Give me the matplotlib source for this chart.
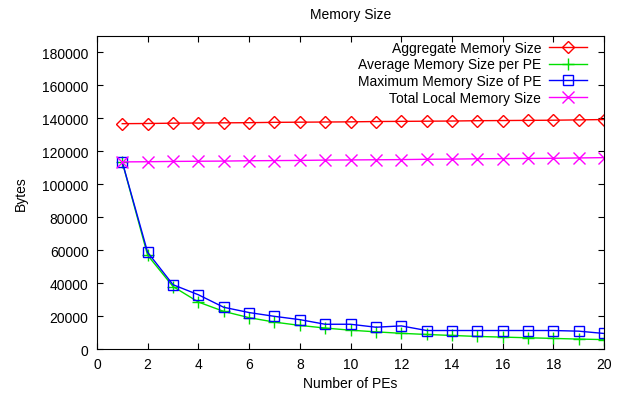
import matplotlib
matplotlib.use("Agg")
import matplotlib.pyplot as plt

plt.rcParams['font.family'] = ['Liberation Sans', 'DejaVu Sans']
plt.rcParams['font.size'] = 10

# number of PEs
pes = list(range(1, 21))

aggregate = [136800, 136900, 137100, 137200, 137300, 137400, 137600, 137700, 137800, 137900,
             138100, 138200, 138300, 138400, 138600, 138700, 138800, 138900, 139100, 139300]
average = [113600, 57000, 38000, 28600, 22900, 19100, 16400, 14400, 12800, 11500,
           10500, 9600, 8900, 8300, 7700, 7300, 6900, 6500, 6100, 5800]
maximum = [113600, 58800, 39100, 33000, 25400, 22200, 19900, 17900, 15100, 15100,
           13300, 14100, 11300, 11300, 11300, 11300, 11300, 11300, 10900, 9500]
total_local = [113600, 113700, 113900, 114000, 114100, 114300, 114400, 114500, 114700, 114800,
               114900, 115000, 115200, 115300, 115500, 115600, 115700, 115800, 116000, 116200]

fig = plt.figure(figsize=(6.21, 4.02), dpi=100)
ax = fig.add_axes([0.156, 0.129, 0.817, 0.779])

ax.plot(pes, aggregate, color='#ff0000', lw=1, marker='D', ms=6, mfc='none', mew=1,
        label='Aggregate Memory Size')
ax.plot(pes, average, color='#00e000', lw=1, marker='+', ms=8, mew=1,
        label='Average Memory Size per PE')
ax.plot(pes, maximum, color='#0000ff', lw=1, marker='s', ms=7, mfc='none', mew=1,
        label='Maximum Memory Size of PE')
ax.plot(pes, total_local, color='#ff00ff', lw=1, marker='x', ms=8, mew=1,
        label='Total Local Memory Size')

ax.set_xlim(0, 20)
ax.set_ylim(0, 190000)
ax.set_xticks(range(0, 21, 2))
ax.set_yticks(range(0, 180001, 20000))
ax.tick_params(direction='in', top=True, right=True, length=4, pad=6)
ax.set_xlabel('Number of PEs', labelpad=3)
ax.set_ylabel('Bytes', labelpad=10)
ax.set_title('Memory Size', fontsize=10, pad=13)

ax.legend(loc='upper right', bbox_to_anchor=(0.966, 0.985), frameon=False, markerfirst=False,
          handlelength=2.7, borderaxespad=0, borderpad=0, labelspacing=0.2, handletextpad=0.6)

fig.savefig('out.png', dpi=100)
